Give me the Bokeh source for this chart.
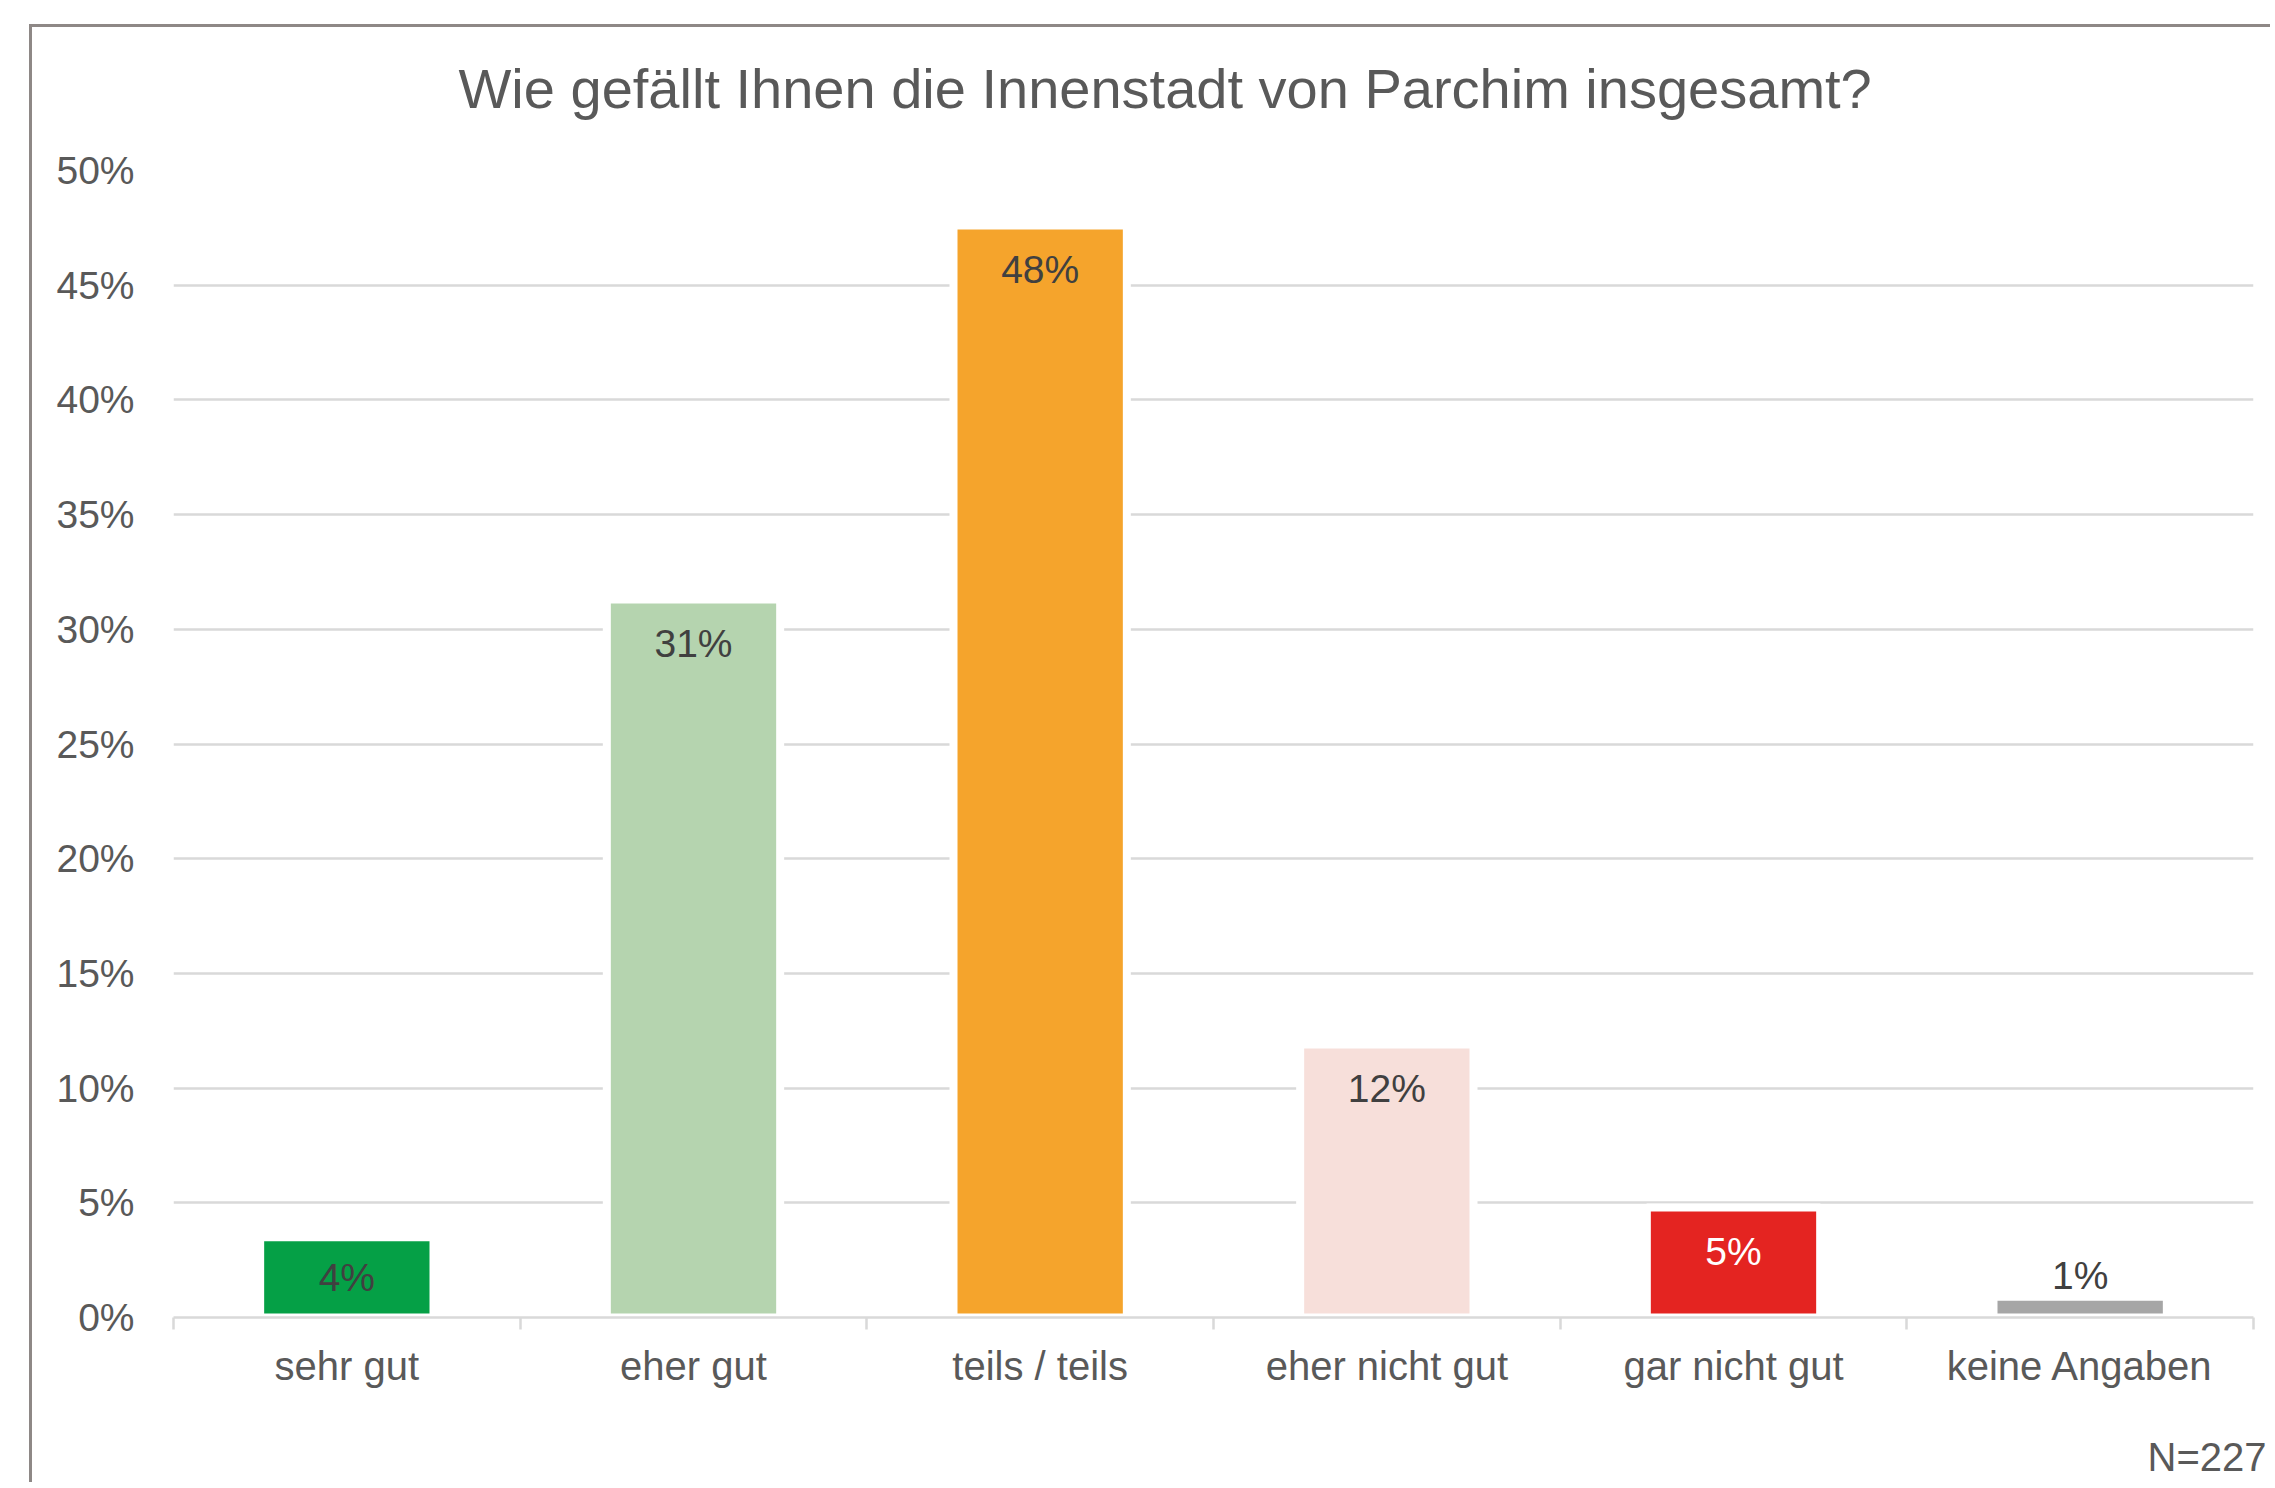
from bokeh.plotting import figure
from bokeh.models import Range1d, FixedTicker, PrintfTickFormatter, ColumnDataSource, Title
from bokeh.core.properties import value
from bokeh.embed import file_html
from bokeh.resources import INLINE

# ---- data ----
categories = ["sehr gut", "eher gut", "teils / teils", "eher nicht gut", "gar nicht gut", "keine Angaben"]
values = [3.5, 31.3, 47.6, 11.9, 4.8, 0.9]
value_labels = ["4%", "31%", "48%", "12%", "5%", "1%"]
y_ticks = [0, 5, 10, 15, 20, 25, 30, 35, 40, 45, 50]
title_text = "Wie gefällt Ihnen die Innenstadt von Parchim insgesamt?"
sample_note = "N=227"

# ---- styles ----
bar_colors = ["#05A046", "#B5D4AF", "#F5A42C", "#F7DFDA", "#E42421", "#A6A6A6"]
label_colors = ["#404040", "#404040", "#404040", "#404040", "#FFFFFF", "#404040"]
FONT = "Liberation Sans"
TEXT = "#595959"
GRID = "#D9D9D9"
FRAME_H = 1147
Y_MAX = 50

xs = list(range(len(categories)))
offsets = [min(44, v / Y_MAX * FRAME_H / 2) if v > 2 else -21 for v in values]

src = ColumnDataSource(dict(x=xs, top=values, color=bar_colors, label=value_labels,
                            lcolor=label_colors, yoff=offsets))

p = figure(width=2241, height=1458,
           x_range=Range1d(-0.5, len(categories) - 0.5), y_range=Range1d(0, Y_MAX),
           output_backend="svg", toolbar_location=None,
           min_border_left=141, min_border_right=20, min_border_top=143, min_border_bottom=168)
p.margin = (24, 0, 0, 29)
p.styles = {"border-left": "3px solid #8E8886", "border-top": "3px solid #8E8886"}
p.outline_line_color = None
p.background_fill_color = "white"
p.border_fill_color = "white"

p.vbar(x="x", top="top", bottom=0, width=0.5, fill_color="color", line_color="white",
       line_width=8, source=src)
p.text(x="x", y="top", text="label", text_color="lcolor", y_offset="yoff",
       text_align="center", text_baseline="middle", text_font=value(FONT),
       text_font_size=value("39px"), source=src)

# x axis
xa = p.xaxis[0]
xa.ticker = FixedTicker(ticks=xs, minor_ticks=[i - 0.5 for i in range(len(categories) + 1)])
xa.major_label_overrides = {i: c for i, c in enumerate(categories)}
xa.major_tick_line_color = None
xa.major_tick_out = 0
xa.major_tick_in = 0
xa.minor_tick_in = 0
xa.minor_tick_out = 12
xa.minor_tick_line_color = GRID
xa.minor_tick_line_width = 2.5
xa.axis_line_color = GRID
xa.axis_line_width = 2.5
xa.major_label_standoff = 14
xa.major_label_text_font = FONT
xa.major_label_text_font_size = "40px"
xa.major_label_text_color = TEXT

# y axis
ya = p.yaxis[0]
ya.ticker = FixedTicker(ticks=y_ticks)
ya.formatter = PrintfTickFormatter(format="%d%%")
ya.axis_line_color = None
ya.major_tick_line_color = None
ya.minor_tick_line_color = None
ya.major_tick_out = 0
ya.major_tick_in = 0
ya.major_label_standoff = 39
ya.major_label_text_font = FONT
ya.major_label_text_font_size = "39px"
ya.major_label_text_color = TEXT

p.xgrid.visible = False
p.ygrid.ticker = FixedTicker(ticks=y_ticks)
p.ygrid.grid_line_color = GRID
p.ygrid.grid_line_width = 2.5

p.title = Title(text=title_text, align="left", offset=285, standoff=10,
                padding=dict(top=0, right=0, bottom=46, left=0),
                text_font=FONT, text_font_size="56px", text_font_style="normal", text_color=TEXT)

p.add_layout(Title(text=sample_note, align="right", offset=-13, standoff=4,
                   padding=dict(top=40, right=0, bottom=0, left=0),
                   text_font=FONT, text_font_size="40px", text_font_style="normal", text_color=TEXT),
             "below")

open("out.html", "w").write(file_html(p, INLINE))
